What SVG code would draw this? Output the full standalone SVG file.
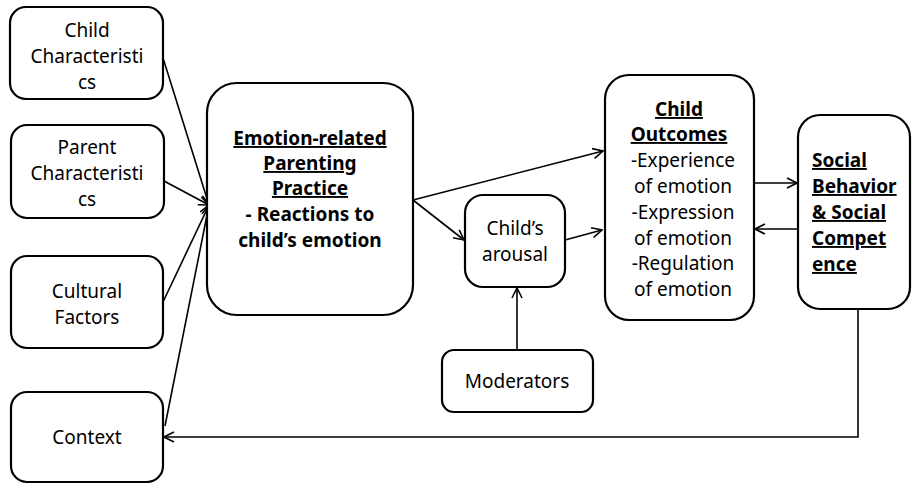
<svg xmlns="http://www.w3.org/2000/svg" width="912" height="484" viewBox="0 0 912 484">
<style>
.box{fill:#fff;stroke:#000;stroke-width:2.2}
text{font-family:"Noto Sans","Open Sans",sans-serif;font-size:19px;fill:#000}
.c{text-anchor:middle}
.b{font-weight:bold}
.u{text-decoration:underline}
.ln{fill:none;stroke:#000;stroke-width:1.6}
</style>
<defs>
<marker id="ah" viewBox="0 0 12 12" refX="11" refY="6" markerWidth="12" markerHeight="12" markerUnits="userSpaceOnUse" orient="auto">
<path d="M1,1 L11,6 L1,11" fill="none" stroke="#000" stroke-width="1.6"/>
</marker>
</defs>
<g id="connectors">
<line class="ln" x1="163" y1="58" x2="209" y2="205" marker-end="url(#ah)"/>
<line class="ln" x1="164" y1="181" x2="209" y2="205" marker-end="url(#ah)"/>
<line class="ln" x1="163" y1="302" x2="209" y2="205" marker-end="url(#ah)"/>
<line class="ln" x1="165" y1="426" x2="209" y2="205" marker-end="url(#ah)"/>
<line class="ln" x1="413" y1="200" x2="603" y2="151" marker-end="url(#ah)"/>
<line class="ln" x1="413" y1="200" x2="464" y2="240" marker-end="url(#ah)"/>
<line class="ln" x1="565" y1="240" x2="602" y2="230" marker-end="url(#ah)"/>
<line class="ln" x1="517" y1="350" x2="517" y2="288" marker-end="url(#ah)"/>
<line class="ln" x1="754" y1="183" x2="797" y2="183" marker-end="url(#ah)"/>
<line class="ln" x1="798" y1="229" x2="755" y2="229" marker-end="url(#ah)"/>
<polyline class="ln" points="858,309 858,437 164,437" marker-end="url(#ah)"/>
</g>
<g id="child-char">
<rect class="box" x="10" y="7" width="153" height="92" rx="16"/>
<text class="c" x="87" y="37">Child</text>
<text class="c" x="87" y="63">Characteristi</text>
<text class="c" x="87" y="89">cs</text>
</g>
<g id="parent-char">
<rect class="box" x="11" y="125" width="153" height="93" rx="16"/>
<text class="c" x="87" y="154">Parent</text>
<text class="c" x="87" y="180">Characteristi</text>
<text class="c" x="87" y="206">cs</text>
</g>
<g id="cultural">
<rect class="box" x="11" y="256" width="152" height="92" rx="16"/>
<text class="c" x="87" y="298">Cultural</text>
<text class="c" x="87" y="324">Factors</text>
</g>
<g id="context">
<rect class="box" x="11" y="392" width="152" height="90" rx="16"/>
<text class="c" x="87" y="444">Context</text>
</g>
<g id="parenting">
<rect class="box" x="207" y="83" width="206" height="232" rx="30"/>
<text class="c b u" x="310" y="145">Emotion-related</text>
<text class="c b u" x="310" y="170">Parenting</text>
<text class="c b u" x="310" y="195">Practice</text>
<text class="c b" x="310" y="221" xml:space="preserve">- Reactions to</text>
<text class="c b" x="310" y="247">child’s emotion</text>
</g>
<g id="arousal">
<rect class="box" x="465" y="195" width="100" height="92" rx="18"/>
<text class="c" x="515" y="235">Child’s</text>
<text class="c" x="515" y="261">arousal</text>
</g>
<g id="moderators">
<rect class="box" x="442" y="350" width="151" height="62" rx="12"/>
<text class="c" x="517" y="388">Moderators</text>
</g>
<g id="outcomes">
<rect class="box" x="605" y="75" width="149" height="245" rx="24"/>
<text class="c b u" x="679" y="116">Child</text>
<text class="c b u" x="679" y="141">Outcomes</text>
<text class="c" x="683" y="167">-Experience</text>
<text class="c" x="683" y="193">of emotion</text>
<text class="c" x="683" y="219">-Expression</text>
<text class="c" x="683" y="245">of emotion</text>
<text class="c" x="683" y="270">-Regulation</text>
<text class="c" x="683" y="296">of emotion</text>
</g>
<g id="social">
<rect class="box" x="798" y="115" width="112" height="194" rx="22"/>
<text class="b u" x="812" y="167">Social</text>
<text class="b u" x="812" y="193">Behavior</text>
<text class="b u" x="812" y="219">&amp; Social</text>
<text class="b u" x="812" y="245">Compet</text>
<text class="b u" x="812" y="271">ence</text>
</g>
</svg>
